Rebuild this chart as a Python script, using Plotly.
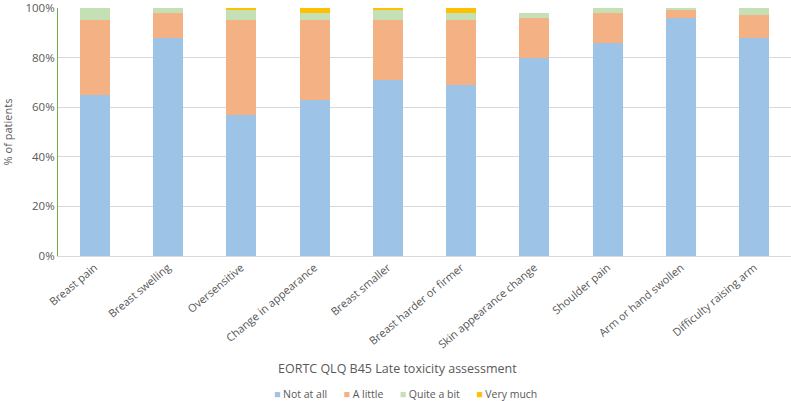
import plotly.graph_objects as go

categories = ["Breast pain", "Breast swelling", "Oversensitive", "Change in appearance",
              "Breast smaller", "Breast harder or firmer", "Skin appearance change",
              "Shoulder pain", "Arm or hand swollen", "Difficulty raising arm"]
not_at_all = [65, 88, 57, 63, 71, 69, 80, 86, 96, 88]
a_little = [30, 10, 38, 32, 24, 26, 16, 12, 3, 9]
quite_a_bit = [5, 2, 4, 3, 4, 3, 2, 2, 1, 3]
very_much = [0, 0, 1, 2, 1, 2, 0, 0, 0, 0]
y_ticks = [0, 0.2, 0.4, 0.6, 0.8, 1.0]
y_tick_labels = ["0%", "20%", "40%", "60%", "80%", "100%"]

series = [("Not at all", not_at_all, "#9dc3e6"),
          ("A little", a_little, "#f4b183"),
          ("Quite a bit", quite_a_bit, "#c5e0b4"),
          ("Very much", very_much, "#ffc000")]

fig = go.Figure()
for name, vals, col in series:
    fig.add_trace(go.Bar(x=categories, y=[v / 100 for v in vals], name=name,
                         marker=dict(color=col, line=dict(width=0))))

font_fam = "Open Sans, Liberation Sans, sans-serif"
gray = "#595959"

# compact legend (like Excel's) built from the series list
nb = "\u00a0"
legend_text = (nb * 6).join(
    f"<span style='color:{col}'>\u25A0</span>{nb}{name}" for name, _, col in series)

fig.update_layout(
    barmode="stack", bargap=0.59,
    width=791, height=401,
    margin=dict(l=58, r=0, t=8, b=145),
    paper_bgcolor="white", plot_bgcolor="white",
    font=dict(family=font_fam, color=gray, size=11),
    showlegend=False,
    xaxis=dict(tickangle=-40, showline=True, linecolor="#d9d9d9", linewidth=1, ticks="",
               automargin=False, tickfont=dict(size=11, color=gray)),
    yaxis=dict(range=[0, 1], tickvals=y_ticks, ticktext=y_tick_labels, showgrid=True,
               gridcolor="#d9d9d9", gridwidth=1, showline=True, linecolor="#70ad47",
               zeroline=False, ticks="", automargin=False, ticklabeloverflow="allow",
               tickfont=dict(size=11.5, color=gray),
               title=dict(text="% of patients", font=dict(size=11, color=gray), standoff=14)),
    annotations=[
        dict(text="EORTC QLQ B45 Late toxicity assessment", xref="paper", yref="paper",
             x=(397 - 58) / 733, y=-0.452, xanchor="center", yanchor="middle",
             showarrow=False, font=dict(size=12.5, color=gray)),
        dict(text=legend_text, xref="paper", yref="paper",
             x=(405 - 58) / 733, y=-0.555, xanchor="center", yanchor="middle",
             showarrow=False, font=dict(size=10.5, color=gray)),
    ],
)

fig.write_html("out.html", config={"displayModeBar": False},
               post_script="document.body.style.margin='0';document.body.style.overflow='hidden';")
